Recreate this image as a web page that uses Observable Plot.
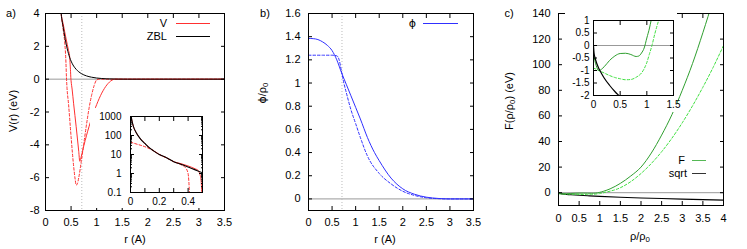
<!DOCTYPE html>
<html><head><meta charset="utf-8">
<script src="https://cdn.jsdelivr.net/npm/d3@7"></script>
<script src="https://cdn.jsdelivr.net/npm/@observablehq/plot@0.6"></script>
<style>
body{margin:0;background:#fff;}
#wrap{position:relative;width:747px;height:249px;overflow:hidden;background:#fff;font-family:"Liberation Sans",Arial,sans-serif;}
#wrap svg{position:absolute;}
.t{position:absolute;white-space:nowrap;line-height:1;color:#000;font-family:"Liberation Sans",Arial,sans-serif;}
.t sub{font-size:0.72em;vertical-align:-0.3em;line-height:0;}
.g{font-family:"DejaVu Sans",sans-serif;color:#000;}
</style></head><body><div id="wrap"></div>
<script>
// ---------- data: panel a (pair potential) ----------
const aZblR = [0.005,0.01,0.02,0.04,0.07,0.1,0.13,0.16,0.2,0.25,0.3,0.35,0.4,0.45,0.5,0.55,0.6,0.7,0.8,0.9,1.0,1.1,1.2,1.4,1.6,3.5];
const aZblV = [1000,600,300,140,65,38,23,15.6,10,6.8,4.2,3.1,2.2,1.55,1.1,0.8,0.6,0.34,0.2,0.12,0.07,0.04,0.02,0.005,0,0];
const aVR = [0.005,0.01,0.02,0.04,0.07,0.1,0.13,0.16,0.2,0.25,0.3,0.35,0.4,0.45,0.47,0.48,0.49,0.495,0.5,0.52,0.55,0.6,0.65,0.67,0.7,0.75,0.8,0.9,1.0,1.1,1.2,1.3,1.35,3.5];
const aVV = [1000,600,300,140,65,38,23,15.6,10,6.8,4.2,3.3,2.5,1.75,1.45,1.0,0.45,0.09,-0.1,-0.6,-1.5,-2.9,-4.4,-5.0,-4.7,-4.05,-3.45,-2.4,-1.55,-0.85,-0.35,-0.06,0,0];
const aVdR = [0,0.02,0.05,0.08,0.11,0.14,0.17,0.2,0.25,0.3,0.35,0.38,0.4,0.41,0.42,0.45,0.5,0.55,0.58,0.6,0.62,0.65,0.7,0.75,0.8,0.85,0.9,0.95,1.0,1.05,3.5];
const aVdV = [45,40,34,29,24,19,14.5,10,6.6,4.2,2.9,2.1,1.0,0.08,-0.5,-1.5,-3.5,-5.3,-6.1,-6.45,-6.4,-6.0,-5.0,-3.9,-2.8,-1.8,-1.0,-0.4,-0.05,0,0];
const cutoffR = 0.71;
const aXTicks = [0,0.5,1,1.5,2,2.5,3,3.5];
const aYTicks = [-8,-6,-4,-2,0,2,4];
const aInXTicks = [0,0.2,0.4];
const aInXMinor = [0.1,0.3,0.5];
const aInYTicks = [0.1,1,10,100,1000];
const aInYMinor = [0.2,0.3,0.4,0.5,0.6,0.7,0.8,0.9,2,3,4,5,6,7,8,9,20,30,40,50,60,70,80,90,200,300,400,500,600,700,800,900];

// ---------- data: panel b (density function) ----------
const bR = [0,0.1,0.2,0.3,0.4,0.5,0.6,0.7,0.8,0.9,1.0,1.1,1.25,1.4,1.5,1.75,2.0,2.25,2.5,2.75,3.0,3.5];
const bPhi = [1.385,1.383,1.375,1.355,1.325,1.28,1.2,1.09,0.99,0.89,0.79,0.69,0.53,0.4,0.33,0.18,0.087,0.04,0.015,0.004,0,0];
const bDR = [0,0.3,0.5,0.6,0.65,0.7,0.75,0.8,0.9,1.0,1.1,1.25,1.5,1.75,2.0,2.25,2.5,2.75,3.0,3.5];
const bDPhi = [1.24,1.24,1.24,1.235,1.2,1.1,1.0,0.92,0.77,0.65,0.53,0.37,0.22,0.13,0.066,0.03,0.01,0.002,0,0];
const bXTicks = [0,0.5,1,1.5,2,2.5,3,3.5];
const bYTicks = [0,0.2,0.4,0.6,0.8,1,1.2,1.4,1.6];

// ---------- data: panel c (embedding function) ----------
const cR = [0,0.05,0.1,0.2,0.3,0.4,0.5,0.6,0.7,0.8,0.85,0.9,0.95,1.0,1.05,1.08,1.1,1.25,1.5,1.75,2.0,2.25,2.5,2.75,3.0,3.25,3.5,3.75,4.0];
const cF = [-0.35,-0.8,-1.0,-0.85,-0.6,-0.42,-0.32,-0.31,-0.36,-0.44,-0.42,-0.3,-0.1,0.3,0.7,1.0,1.2,3.0,7.3,13,20,31,45,61,80,101,125,151,180];
const cDR = [0,0.05,0.1,0.2,0.3,0.4,0.5,0.6,0.7,0.8,0.9,0.95,1.0,1.05,1.1,1.15,1.2,1.25,1.5,1.75,2.0,2.25,2.5,2.75,3.0,3.25,3.5,3.75,4.0];
const cDF = [-0.9,-0.95,-1.0,-1.1,-1.2,-1.28,-1.33,-1.37,-1.36,-1.27,-1.1,-0.93,-0.68,-0.33,0.03,0.47,0.85,1.2,3.9,8.6,15,22.8,32,42.6,54.6,67.9,82.4,98,115];
const cSR = [0,0.01,0.03,0.06,0.1,0.15,0.2,0.3,0.4,0.5,0.75,1,1.5,2,2.5,3,3.5,4];
const cSF = [0,-0.29,-0.5,-0.71,-0.92,-1.12,-1.3,-1.59,-1.84,-2.05,-2.51,-2.9,-3.55,-4.1,-4.58,-5.02,-5.42,-5.8];
const cXTicks = [0,0.5,1,1.5,2,2.5,3,3.5,4];
const cYTicks = [0,20,40,60,80,100,120,140];
const cInXTicks = [0,0.5,1,1.5];
const cInYTicks = [-2,-1.5,-1,-0.5,0,0.5,1];

// ---------- colours ----------
const RED = "#ff3030", BLUE = "#3030ff", GREEN = "#2f9f2f", LGREEN = "#40e040";

const rows = (xs, ys) => xs.map((x, i) => ({x, y: ys[i]}));
const wrap = document.getElementById("wrap");
const style = {fontFamily: '"Liberation Sans", Arial, sans-serif', fontSize: "11px", background: "transparent", overflow: "visible"};
const fmt = d => String(d);

function gnuAxes(xt, yt, {xPad = 8, yPad = 6, tick = 4, xMinor = null, yMinor = null, minorTick = 2} = {}) {
  const none = () => "";
  const m = [
    Plot.axisX(xt, {anchor: "bottom", tickSize: 0, tickPadding: xPad, tickFormat: fmt, label: null}),
    Plot.axisY(yt, {anchor: "left", tickSize: 0, tickPadding: yPad, tickFormat: fmt, label: null}),
    Plot.axisX(xt, {anchor: "bottom", tickSize: -tick, tickFormat: none, label: null}),
    Plot.axisX(xt, {anchor: "top", tickSize: -tick, tickFormat: none, label: null}),
    Plot.axisY(yt, {anchor: "left", tickSize: -tick, tickFormat: none, label: null}),
    Plot.axisY(yt, {anchor: "right", tickSize: -tick, tickFormat: none, label: null})
  ];
  if (xMinor) m.push(
    Plot.axisX(xMinor, {anchor: "bottom", tickSize: -tick, tickFormat: none, label: null}),
    Plot.axisX(xMinor, {anchor: "top", tickSize: -tick, tickFormat: none, label: null}));
  if (yMinor) m.push(
    Plot.axisY(yMinor, {anchor: "left", tickSize: -minorTick, tickFormat: none, label: null}),
    Plot.axisY(yMinor, {anchor: "right", tickSize: -minorTick, tickFormat: none, label: null}));
  return m;
}
function put(svg, left, top) { svg.style.left = left + "px"; svg.style.top = top + "px"; wrap.appendChild(svg); }
function txt(html, x, y, {align = "center", rot = false, size = 11} = {}) {
  const d = document.createElement("div");
  d.className = "t"; d.innerHTML = html;
  d.style.left = x + "px"; d.style.top = y + "px"; d.style.fontSize = size + "px";
  const tx = align === "center" ? "-50%" : align === "right" ? "-100%" : "0";
  d.style.transform = `translate(${tx},-50%)` + (rot ? " rotate(-90deg)" : "");
  wrap.appendChild(d);
}
// legend sample line: a tiny standalone svg placed in the legend box
function legLine(x1, x2, y, color) {
  const w = x2 - x1;
  const s = d3.create("svg").attr("width", w).attr("height", 3)
    .style("left", x1 + "px").style("top", (y - 1) + "px");
  s.append("line").attr("x1", 0).attr("x2", w).attr("y1", 1.5).attr("y2", 1.5)
    .attr("stroke", color).attr("stroke-width", 1);
  wrap.appendChild(s.node());
}

// ---------- panel a ----------
const zbl = rows(aZblR, aZblV), vS = rows(aVR, aVV), vD = rows(aVdR, aVdV);
put(Plot.plot({
  width: 235, height: 249, marginLeft: 45, marginRight: 11, marginTop: 13, marginBottom: 39, style,
  x: {domain: [0, 3.5]}, y: {domain: [-8, 4]},
  marks: [
    Plot.ruleY([0], {stroke: "#999"}),
    Plot.ruleX([cutoffR], {stroke: "#bbb", strokeDasharray: "1,2"}),
    Plot.line(vD, {x: "x", y: "y", stroke: RED, strokeWidth: 1, strokeDasharray: "2.5,2", curve: "monotone-x", clip: true}),
    Plot.line(vS, {x: "x", y: "y", stroke: RED, strokeWidth: 1, curve: "monotone-x", clip: true}),
    Plot.line(zbl, {x: "x", y: "y", stroke: "#000", strokeWidth: 1, curve: "monotone-x", clip: true}),
    ...gnuAxes(aXTicks, aYTicks, {xPad: 8, yPad: 6}),
    Plot.frame({stroke: "#000"})
  ]
}), 0, 0);

// inset a (log scale)
put(Plot.plot({
  width: 117, height: 100, marginLeft: 40, marginRight: 5, marginTop: 8, marginBottom: 16,
  style: {...style, fontSize: "10px", background: "#fff"},
  x: {domain: [0, 0.5]}, y: {type: "log", domain: [0.1, 1000]},
  marks: [
    Plot.line(vD.filter(d => d.y > 0), {x: "x", y: "y", stroke: RED, strokeWidth: 1, strokeDasharray: "2.5,2", curve: "monotone-x", clip: true}),
    Plot.line(vS.filter(d => d.y > 0), {x: "x", y: "y", stroke: RED, strokeWidth: 1, curve: "monotone-x", clip: true}),
    Plot.line(zbl.filter(d => d.y > 0), {x: "x", y: "y", stroke: "#000", strokeWidth: 1.1, curve: "monotone-x", clip: true}),
    ...gnuAxes(aInXTicks, aInYTicks, {xPad: 5, yPad: 9, tick: 4, xMinor: aInXMinor, yMinor: aInYMinor}),
    Plot.frame({stroke: "#000"})
  ]
}), 90, 108);

// ---------- panel b ----------
put(Plot.plot({
  width: 235, height: 249, marginLeft: 58, marginRight: 12, marginTop: 13, marginBottom: 39, style,
  x: {domain: [0, 3.5]}, y: {domain: [-0.1, 1.6]},
  marks: [
    Plot.ruleY([0], {stroke: "#999"}),
    Plot.ruleX([cutoffR], {stroke: "#bbb", strokeDasharray: "1,2"}),
    Plot.line(rows(bDR, bDPhi), {x: "x", y: "y", stroke: BLUE, strokeWidth: 1, strokeDasharray: "2.5,2", curve: "monotone-x"}),
    Plot.line(rows(bR, bPhi), {x: "x", y: "y", stroke: BLUE, strokeWidth: 1, curve: "monotone-x"}),
    ...gnuAxes(bXTicks, bYTicks, {xPad: 8, yPad: 8}),
    Plot.frame({stroke: "#000"})
  ]
}), 250, 0);

// ---------- panel c ----------
const fS = rows(cR, cF), fD = rows(cDR, cDF), sq = rows(cSR, cSF);
put(Plot.plot({
  width: 250, height: 249, marginLeft: 61, marginRight: 24, marginTop: 13, marginBottom: 44, style,
  x: {domain: [0, 4]}, y: {domain: [-10, 140]},
  marks: [
    Plot.ruleY([0], {stroke: "#999"}),
    Plot.line(sq, {x: "x", y: "y", stroke: "#000", strokeWidth: 1.1, curve: "monotone-x"}),
    Plot.line(fD, {x: "x", y: "y", stroke: LGREEN, strokeWidth: 1, strokeDasharray: "2.5,2", curve: "monotone-x", clip: true}),
    Plot.line(fS, {x: "x", y: "y", stroke: GREEN, strokeWidth: 1, curve: "monotone-x", clip: true}),
    ...gnuAxes(cXTicks, cYTicks, {xPad: 9, yPad: 8}),
    Plot.frame({stroke: "#000"})
  ]
}), 497, 0);

// inset c
put(Plot.plot({
  width: 112, height: 100, marginLeft: 28, marginRight: 4, marginTop: 8, marginBottom: 17,
  style: {...style, fontSize: "10px", background: "#fff"},
  x: {domain: [0, 1.5]}, y: {domain: [-2, 1]},
  marks: [
    Plot.ruleY([0], {stroke: "#999"}),
    Plot.line(fD, {x: "x", y: "y", stroke: LGREEN, strokeWidth: 1, strokeDasharray: "2.5,2", curve: "monotone-x", clip: true}),
    Plot.line(fS, {x: "x", y: "y", stroke: GREEN, strokeWidth: 1, curve: "monotone-x", clip: true}),
    Plot.line(sq, {x: "x", y: "y", stroke: "#000", strokeWidth: 1.2, curve: "monotone-x", clip: true}),
    ...gnuAxes(cInXTicks, cInYTicks, {xPad: 5, yPad: 4, tick: 4}),
    Plot.frame({stroke: "#000"})
  ]
}), 565, 12);

// ---------- text: panel tags, axis labels, legends ----------
txt("a)", 11, 13); txt("b)", 265, 13); txt("c)", 509, 13);
txt("V(r) (eV)", 13, 111, {rot: true});
txt("r (A)", 135, 239);
txt('<span class="g">ϕ</span>/ρ<sub>0</sub>', 262, 93, {rot: true});
txt("r (A)", 385, 239);
txt("F(ρ/ρ<sub>0</sub>) (eV)", 509, 101, {rot: true});
txt("ρ/ρ<sub>0</sub>", 640, 236);

txt("V", 167, 23, {align: "right"}); legLine(176, 210, 23, RED);
txt("ZBL", 167, 36, {align: "right"}); legLine(176, 210, 36, "#000");
txt('<span class="g">ϕ</span>', 416, 23, {align: "right"}); legLine(423, 458, 23, BLUE);
txt("F", 685, 160, {align: "right"}); legLine(692, 706, 160, "#55b855");
txt("sqrt", 687, 173, {align: "right"}); legLine(692, 706, 173, "#333");
</script>
</body></html>
